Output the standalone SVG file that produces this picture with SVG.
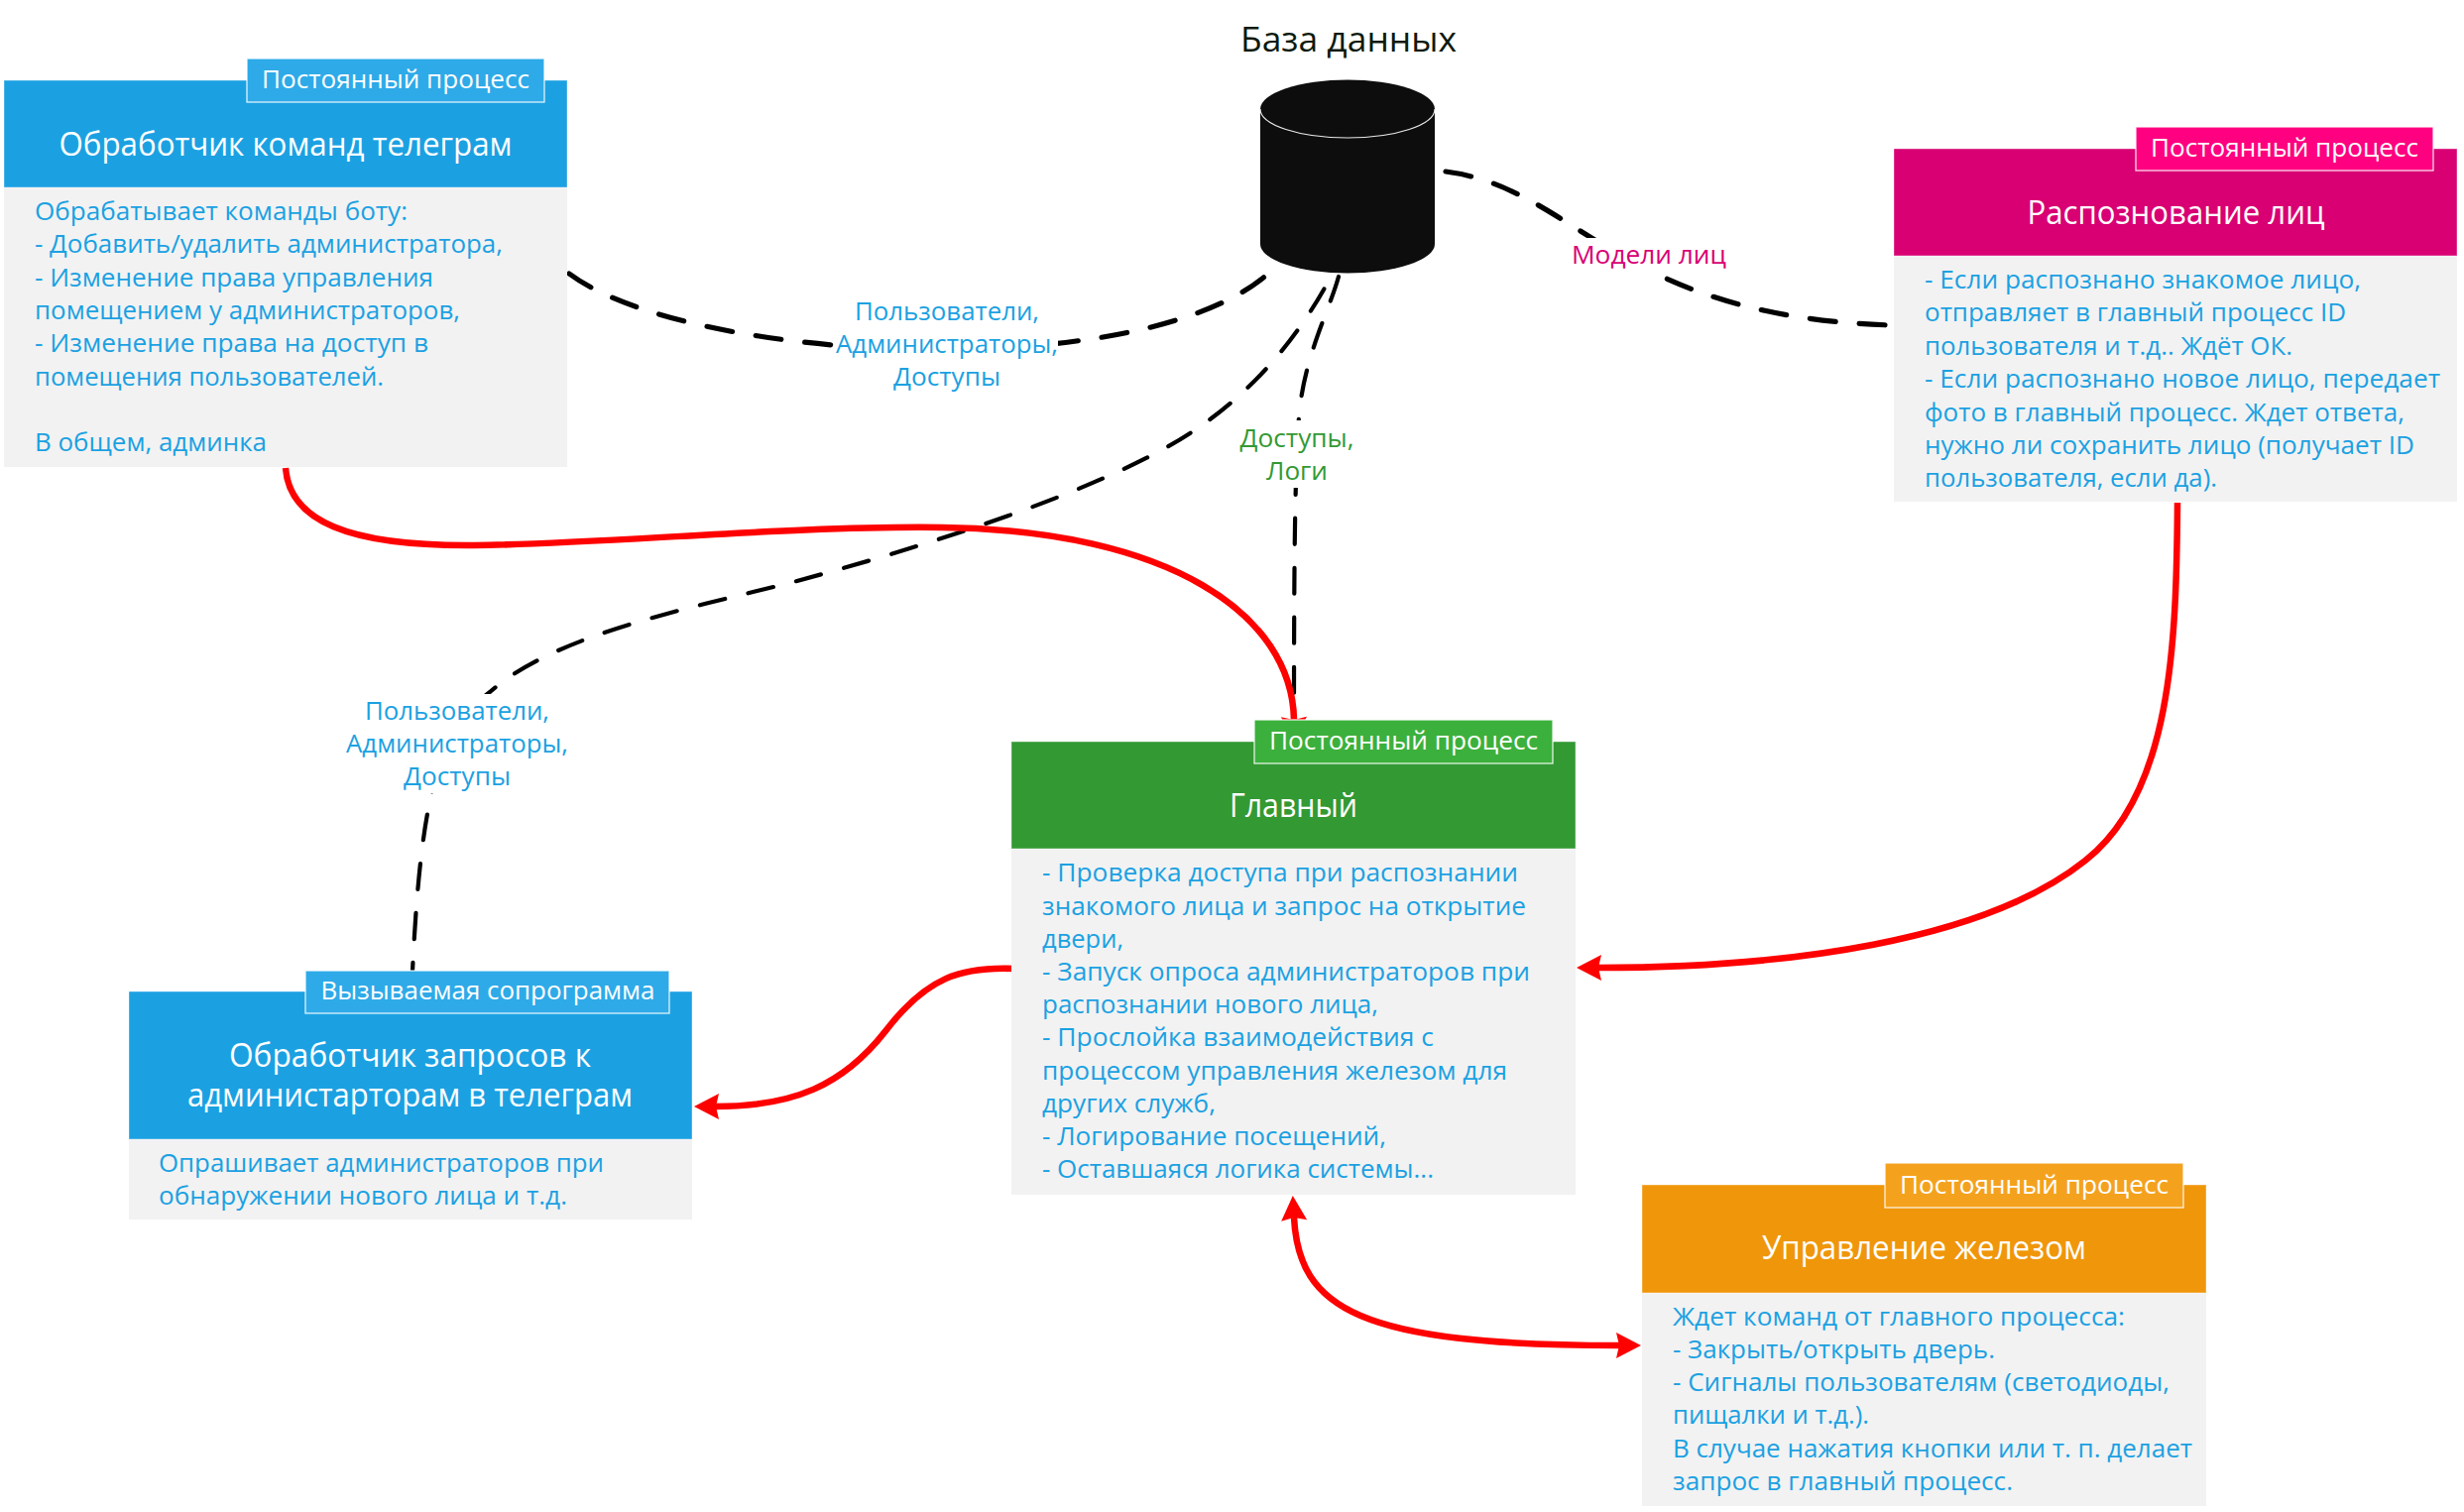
<svg xmlns="http://www.w3.org/2000/svg" width="2485" height="1525" viewBox="0 0 2485 1525">
<style>
text{font-family:"Open Sans","Noto Sans","Liberation Sans",sans-serif}
.body{font-size:25px;fill:#1ba1e2}
.title{font-size:32px;fill:#fff}
.tag{font-size:26px;fill:#fff}
.lbl{font-size:25px;text-anchor:middle}
.bg{fill:#f2f2f2}
.hdr{stroke:#fff;stroke-opacity:.4;stroke-width:1}
.badge{stroke:#fff;stroke-opacity:.85;stroke-width:1.3}
.dash{fill:none;stroke:#000;stroke-width:4.2;stroke-dasharray:26 24;stroke-linecap:round}
.wide{stroke-width:5.2}
.red{fill:none;stroke:#f00;stroke-width:6.5}
</style>
<defs>
<marker id="arr" markerUnits="userSpaceOnUse" markerWidth="28" markerHeight="28" refX="4" refY="14" orient="auto-start-reverse">
<path d="M1,1 L26,14 L1,27 L4,14 Z" fill="#f00"/>
</marker>
</defs>
<rect width="2485" height="1525" fill="#fff"/>
<g id="connectors">
<path class="dash wide" d="M574,276 C700,370 1180,390 1290,265"/>
<path class="dash wide" d="M1458,173 C1590,190 1630,320 1908,328"/>
<path class="dash" d="M1350,279 C1340,315 1315,360 1310,420 C1306,480 1305,550 1305,740"/>
<path class="dash" d="M1358,247 C1325,320 1270,400 1175,452 C1080,504 930,552 800,587 C690,615 560,640 494,698 C445,735 425,790 416,980"/>
<path class="red" marker-end="url(#arr)" d="M288,472 C292,525 350,551 478,550 C600,549 800,530 950,532 C1180,535 1303,620 1305,726"/>
<path class="red" marker-end="url(#arr)" d="M2196,507 C2195,650 2190,800 2103,868 C2000,950 1800,976 1612,976"/>
<path class="red" marker-end="url(#arr)" d="M1022,977 C970,975 935,985 893,1040 C850,1095 800,1116 722,1116"/>
<path class="red" marker-start="url(#arr)" marker-end="url(#arr)" d="M1305,1228 C1310,1320 1370,1357 1633,1357"/>
<g id="edge-labels">
<rect x="843" y="298" width="224" height="100" fill="#fff"/>
<text class="lbl" fill="#1ba1e2" x="955" y="323" textLength="186" lengthAdjust="spacingAndGlyphs">Пользователи,</text>
<text class="lbl" fill="#1ba1e2" x="955" y="356" textLength="224" lengthAdjust="spacingAndGlyphs">Администраторы,</text>
<text class="lbl" fill="#1ba1e2" x="955" y="389" textLength="108" lengthAdjust="spacingAndGlyphs">Доступы</text>
<rect x="1585" y="240" width="156" height="37" fill="#fff"/>
<text class="lbl" fill="#d80073" x="1663" y="266" textLength="156" lengthAdjust="spacingAndGlyphs">Модели лиц</text>
<rect x="1249" y="424" width="118" height="68" fill="#fff"/>
<text class="lbl" fill="#339933" x="1308" y="451" textLength="115" lengthAdjust="spacingAndGlyphs">Доступы,</text>
<text class="lbl" fill="#339933" x="1308" y="484" textLength="62" lengthAdjust="spacingAndGlyphs">Логи</text>
<rect x="349" y="700" width="224" height="100" fill="#fff"/>
<text class="lbl" fill="#1ba1e2" x="461" y="726" textLength="186" lengthAdjust="spacingAndGlyphs">Пользователи,</text>
<text class="lbl" fill="#1ba1e2" x="461" y="759" textLength="224" lengthAdjust="spacingAndGlyphs">Администраторы,</text>
<text class="lbl" fill="#1ba1e2" x="461" y="792" textLength="108" lengthAdjust="spacingAndGlyphs">Доступы</text>
</g>
</g>
<g id="db">
<text x="1360" y="52" text-anchor="middle" font-size="34" fill="#0d1a0d" textLength="218" lengthAdjust="spacingAndGlyphs">База данных</text>
<path d="M1271,110 V246 A88,29.5 0 0 0 1447,246 V110 A88,29.5 0 0 0 1271,110 Z" fill="#0d0d0d"/>
<path d="M1271,110 A88,29 0 0 0 1447,110" fill="none" stroke="#e8e8e8" stroke-width="1.2"/>
</g>
<g id="node-telegram-commands">
<rect class="bg" x="4" y="189" width="568" height="282"/>
<rect class="hdr" x="4" y="81" width="568" height="108" fill="#1ba1e2"/>
<rect class="badge" x="249" y="59" width="300" height="44" fill="#2eaae8"/>
<text class="tag" x="264" y="89" textLength="270" lengthAdjust="spacingAndGlyphs">Постоянный процесс</text>
<text class="title" x="59.5" y="156.5" textLength="457" lengthAdjust="spacingAndGlyphs">Обработчик команд телеграм</text>
<text class="body" x="35" y="222" textLength="376" lengthAdjust="spacingAndGlyphs">Обрабатывает команды боту:</text>
<text class="body" x="35" y="255" textLength="472" lengthAdjust="spacingAndGlyphs">- Добавить/удалить администратора,</text>
<text class="body" x="35" y="288.5" textLength="402" lengthAdjust="spacingAndGlyphs">- Изменение права управления</text>
<text class="body" x="35" y="322" textLength="429" lengthAdjust="spacingAndGlyphs">помещением у администраторов,</text>
<text class="body" x="35" y="355" textLength="397" lengthAdjust="spacingAndGlyphs">- Изменение права на доступ в</text>
<text class="body" x="35" y="388.5" textLength="352" lengthAdjust="spacingAndGlyphs">помещения пользователей.</text>
<text class="body" x="35" y="455" textLength="234" lengthAdjust="spacingAndGlyphs">В общем, админка</text>
</g>
<g id="node-face-recognition">
<rect class="bg" x="1910" y="258" width="568" height="248"/>
<rect class="hdr" x="1910" y="150" width="568" height="108" fill="#d80073"/>
<rect class="badge" x="2154" y="128" width="300" height="44" fill="#ff0080"/>
<text class="tag" x="2169" y="158" textLength="270" lengthAdjust="spacingAndGlyphs">Постоянный процесс</text>
<text class="title" x="2044.5" y="225.5" textLength="300" lengthAdjust="spacingAndGlyphs">Распознование лиц</text>
<text class="body" x="1941" y="291" textLength="440" lengthAdjust="spacingAndGlyphs">- Если распознано знакомое лицо,</text>
<text class="body" x="1941" y="324" textLength="425" lengthAdjust="spacingAndGlyphs">отправляет в главный процесс ID</text>
<text class="body" x="1941" y="358" textLength="371" lengthAdjust="spacingAndGlyphs">пользователя и т.д.. Ждёт ОК.</text>
<text class="body" x="1941" y="391" textLength="520" lengthAdjust="spacingAndGlyphs">- Если распознано новое лицо, передает</text>
<text class="body" x="1941" y="424.5" textLength="484" lengthAdjust="spacingAndGlyphs">фото в главный процесс. Ждет ответа,</text>
<text class="body" x="1941" y="458" textLength="494" lengthAdjust="spacingAndGlyphs">нужно ли сохранить лицо (получает ID</text>
<text class="body" x="1941" y="491" textLength="295" lengthAdjust="spacingAndGlyphs">пользователя, если да).</text>
</g>
<g id="node-main">
<rect class="bg" x="1020" y="856" width="569" height="349"/>
<rect class="hdr" x="1020" y="748" width="569" height="108" fill="#339933"/>
<rect class="badge" x="1265" y="726" width="301" height="44" fill="#3cb03c"/>
<text class="tag" x="1280" y="756" textLength="271" lengthAdjust="spacingAndGlyphs">Постоянный процесс</text>
<text class="title" x="1240" y="823.5" textLength="129" lengthAdjust="spacingAndGlyphs">Главный</text>
<text class="body" x="1051" y="889.3" textLength="480" lengthAdjust="spacingAndGlyphs">- Проверка доступа при распознании</text>
<text class="body" x="1051" y="922.5" textLength="488" lengthAdjust="spacingAndGlyphs">знакомого лица и запрос на открытие</text>
<text class="body" x="1051" y="955.7" textLength="82" lengthAdjust="spacingAndGlyphs">двери,</text>
<text class="body" x="1051" y="988.9" textLength="492" lengthAdjust="spacingAndGlyphs">- Запуск опроса администраторов при</text>
<text class="body" x="1051" y="1022.1" textLength="339" lengthAdjust="spacingAndGlyphs">распознании нового лица,</text>
<text class="body" x="1051" y="1055.3" textLength="395" lengthAdjust="spacingAndGlyphs">- Прослойка взаимодействия с</text>
<text class="body" x="1051" y="1088.5" textLength="469" lengthAdjust="spacingAndGlyphs">процессом управления железом для</text>
<text class="body" x="1051" y="1121.7" textLength="175" lengthAdjust="spacingAndGlyphs">других служб,</text>
<text class="body" x="1051" y="1154.9" textLength="347" lengthAdjust="spacingAndGlyphs">- Логирование посещений,</text>
<text class="body" x="1051" y="1188.1" textLength="395" lengthAdjust="spacingAndGlyphs">- Оставшаяся логика системы...</text>
</g>
<g id="node-hardware">
<rect class="bg" x="1656" y="1304" width="569" height="215"/>
<rect class="hdr" x="1656" y="1195" width="569" height="109" fill="#f0960a"/>
<rect class="badge" x="1901" y="1173" width="301" height="45" fill="#f4a21e"/>
<text class="tag" x="1916" y="1204" textLength="271" lengthAdjust="spacingAndGlyphs">Постоянный процесс</text>
<text class="title" x="1777" y="1270" textLength="327" lengthAdjust="spacingAndGlyphs">Управление железом</text>
<text class="body" x="1687" y="1336.8" textLength="456" lengthAdjust="spacingAndGlyphs">Ждет команд от главного процесса:</text>
<text class="body" x="1687" y="1370" textLength="325" lengthAdjust="spacingAndGlyphs">- Закрыть/открыть дверь.</text>
<text class="body" x="1687" y="1403.2" textLength="501" lengthAdjust="spacingAndGlyphs">- Сигналы пользователям (светодиоды,</text>
<text class="body" x="1687" y="1436.4" textLength="198" lengthAdjust="spacingAndGlyphs">пищалки и т.д.).</text>
<text class="body" x="1687" y="1469.6" textLength="524" lengthAdjust="spacingAndGlyphs">В случае нажатия кнопки или т. п. делает</text>
<text class="body" x="1687" y="1502.8" textLength="343" lengthAdjust="spacingAndGlyphs">запрос в главный процесс.</text>
</g>
<g id="node-admin-requests">
<rect class="bg" x="130" y="1149" width="568" height="81"/>
<rect class="hdr" x="130" y="1000" width="568" height="149" fill="#1ba1e2"/>
<rect class="badge" x="308" y="979" width="367" height="43" fill="#2eaae8"/>
<text class="tag" x="323.5" y="1008" textLength="337" lengthAdjust="spacingAndGlyphs">Вызываемая сопрограмма</text>
<text class="title" x="231" y="1075.5" textLength="365" lengthAdjust="spacingAndGlyphs">Обработчик запросов к</text>
<text class="title" x="189" y="1115.5" textLength="449" lengthAdjust="spacingAndGlyphs">администарторам в телеграм</text>
<text class="body" x="160" y="1181.5" textLength="449" lengthAdjust="spacingAndGlyphs">Опрашивает администраторов при</text>
<text class="body" x="160" y="1214.5" textLength="412" lengthAdjust="spacingAndGlyphs">обнаружении нового лица и т.д.</text>
</g>
</svg>
